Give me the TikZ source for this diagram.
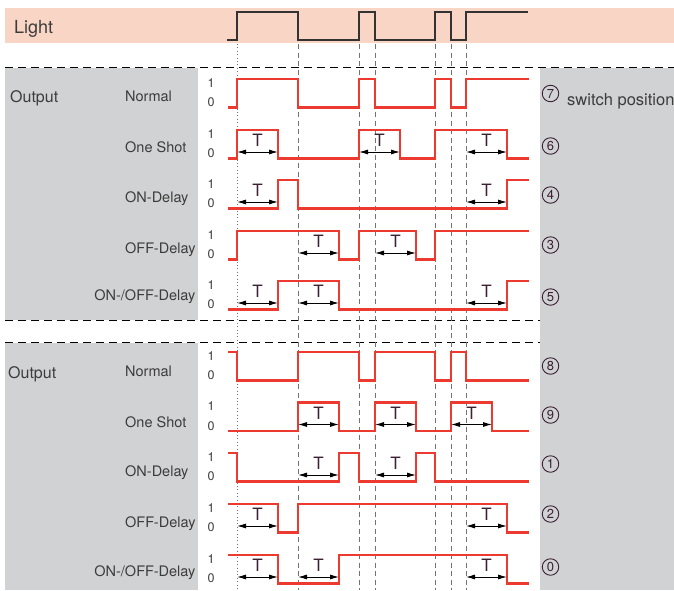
\documentclass[tikz,border=0pt]{standalone}
\usepackage{fontspec}
\setmainfont{TeX Gyre Heros}
\usetikzlibrary{arrows.meta}
\definecolor{band}{RGB}{249,213,197}
\definecolor{panel}{RGB}{209,210,212}
\definecolor{sig}{RGB}{236,58,48}
\definecolor{ink}{RGB}{60,60,60}
\definecolor{plum}{RGB}{60,32,52}
\tikzset{
  sigline/.style={draw=sig, line width=2.3pt, line join=miter},
  lightline/.style={draw=black!80, line width=1.6pt},
  guide/.style={draw=black!55, line width=0.7pt, dash pattern=on 5pt off 3.5pt},
  guidedot/.style={draw=black!55, line width=0.7pt, dash pattern=on 0.8pt off 2.6pt},
  sep/.style={draw=black, line width=1pt, dash pattern=on 8pt off 5pt},
  tarr/.style={draw=black, line width=0.9pt, {Latex[length=9pt,width=5pt]}-{Latex[length=9pt,width=5pt]}},
  tlab/.style={text=plum, font=\fontsize{17}{17}\selectfont, inner sep=0pt, yshift=11.5pt},
  lvl/.style={text=ink, font=\fontsize{12.5}{12.5}\selectfont, inner sep=0pt},
  rowlab/.style={text=ink, font=\fontsize{14.5}{14.5}\selectfont, inner sep=0pt, anchor=base west},
  rowlabr/.style={rowlab, anchor=base east},
  head/.style={text=ink, font=\fontsize{16}{16}\selectfont, inner sep=0pt, anchor=base west},
  swpos/.style={circle, draw=plum, text=plum, line width=0.9pt, inner sep=0pt,
    minimum size=16.5pt, font=\fontsize{13}{13}\selectfont},
}
% level marks "1" and "0" of one trace (inside a row scope)
\newcommand\levels[1]{%
  \node[lvl] (#1-one) at (211,4) {1};
  \node[lvl] (#1-zero) at (211,23.5) {0};}
% delay span T with its double arrow (inside a row scope)
\newcommand\tspan[3]{%
  \draw[tarr] (#2,22) -- (#3,22);
  \node[tlab] (#1) at ({(#2+#3)/2},22) {T};}
\begin{document}
\begin{tikzpicture}[x=1pt,y=-1pt]
\useasboundingbox (0,0) rectangle (674,590);

% backgrounds
\fill[band] (5,7.5) rectangle (674,42.5);
\fill[panel] (5,68) rectangle (198,320);
\fill[panel] (5,343) rectangle (198,590);
\fill[panel] (540,68) rectangle (674,590);

% section separators
\draw[sep] (5,67) -- (674,67);
\draw[sep] (5,320) -- (540,320);
\draw[sep] (5,342.5) -- (540,342.5);

% switching instants of the light
\draw[guidedot] (237,44) -- (237,590);
\foreach \x in {298,359,375,435,451,466}
  \draw[guide] (\x,44) -- (\x,590);

% light input
\node[text=ink, font=\fontsize{18}{18}\selectfont, inner sep=0pt, anchor=base west] (light) at (14,33) {Light};
\draw[lightline] (227,40) -| (237,12) -| (298,40) -| (359,12) -| (375,40)
  -| (435,12) -| (451,40) -| (466,12) -- (528,12);

% ---------- upper group ----------
\node[head] (out1) at (10,102.3) {Output};
\node[rowlab] (n1) at (125,101.7) {Normal};
\node[rowlab] (os1) at (125,152.7) {One Shot};
\node[rowlab] (on1) at (125,202) {ON-Delay};
\node[rowlab] (off1) at (125,253) {OFF-Delay};
\node[rowlabr] (onoff1) at (195.5,300.5) {ON-/OFF-Delay};

\begin{scope}[shift={(0,79)}]
  \levels{r1}
  \draw[sigline] (228,28.5) -| (237,0) -| (298,28.5) -| (359,0) -| (375,28.5)
    -| (435,0) -| (451,28.5) -| (466,0) -- (529,0);
\end{scope}
\begin{scope}[shift={(0,130)}]
  \levels{r2}
  \draw[sigline] (228,28.5) -| (237,0) -| (278,28.5) -| (359,0) -| (400,28.5)
    -| (435,0) -| (507,28.5) -- (529,28.5);
  \tspan{t2a}{237}{278}\tspan{t2b}{359}{400}\tspan{t2c}{466}{507}
\end{scope}
\begin{scope}[shift={(0,180)}]
  \levels{r3}
  \draw[sigline] (228,28.5) -| (278,0) -| (298,28.5) -| (507,0) -- (529,0);
  \tspan{t3a}{237}{278}\tspan{t3b}{466}{507}
\end{scope}
\begin{scope}[shift={(0,231)}]
  \levels{r4}
  \draw[sigline] (228,28.5) -| (237,0) -| (339,28.5) -| (359,0) -| (416,28.5)
    -| (435,0) -- (529,0);
  \tspan{t4a}{298}{339}\tspan{t4b}{375}{416}
\end{scope}
\begin{scope}[shift={(0,281)}]
  \levels{r5}
  \draw[sigline] (228,28.5) -| (278,0) -| (339,28.5) -| (507,0) -- (529,0);
  \tspan{t5a}{237}{278}\tspan{t5b}{298}{339}\tspan{t5c}{466}{507}
\end{scope}

\node[swpos] (p7) at (550.5,93.5) {7};
\node[head, font=\fontsize{16.5}{16.5}\selectfont] (sw) at (567,105) {switch position};
\node[swpos] (p6) at (550.5,146) {6};
\node[swpos] (p4) at (550.5,195) {4};
\node[swpos] (p3) at (550.5,245) {3};
\node[swpos] (p5) at (550.5,297) {5};

% ---------- lower group ----------
\node[head] (out2) at (8,378) {Output};
\node[rowlab] (n2) at (125,376.5) {Normal};
\node[rowlab] (os2) at (125,427.5) {One Shot};
\node[rowlab] (on2) at (125,476.5) {ON-Delay};
\node[rowlab] (off2) at (125,527.5) {OFF-Delay};
\node[rowlabr] (onoff2) at (195.5,576) {ON-/OFF-Delay};

\begin{scope}[shift={(0,352)}]
  \levels{r6}
  \draw[sigline] (228,0) -| (237,28.5) -| (298,0) -| (359,28.5) -| (375,0)
    -| (435,28.5) -| (451,0) -| (466,28.5) -- (529,28.5);
\end{scope}
\begin{scope}[shift={(0,402.5)}]
  \levels{r7}
  \draw[sigline] (228,28.5) -| (298,0) -| (339,28.5) -| (375,0) -| (416,28.5)
    -| (451,0) -| (492,28.5) -- (529,28.5);
  \tspan{t7a}{298}{339}\tspan{t7b}{375}{416}\tspan{t7c}{451}{492}
\end{scope}
\begin{scope}[shift={(0,453)}]
  \levels{r8}
  \draw[sigline] (228,0) -| (237,28.5) -| (339,0) -| (359,28.5) -| (416,0)
    -| (435,28.5) -- (529,28.5);
  \tspan{t8a}{298}{339}\tspan{t8b}{375}{416}
\end{scope}
\begin{scope}[shift={(0,504)}]
  \levels{r9}
  \draw[sigline] (228,0) -| (278,28.5) -| (298,0) -| (507,28.5) -- (529,28.5);
  \tspan{t9a}{237}{278}\tspan{t9b}{466}{507}
\end{scope}
\begin{scope}[shift={(0,555)}]
  \levels{r10}
  \draw[sigline] (228,0) -| (278,28.5) -| (339,0) -| (507,28.5) -- (529,28.5);
  \tspan{t10a}{237}{278}\tspan{t10b}{298}{339}\tspan{t10c}{466}{507}
\end{scope}

\node[swpos] (p8) at (550.5,366) {8};
\node[swpos] (p9) at (550.5,415) {9};
\node[swpos] (p1) at (550.5,464) {1};
\node[swpos] (p2) at (550.5,514) {2};
\node[swpos] (p0) at (550.5,567) {0};
\end{tikzpicture}
\end{document}
